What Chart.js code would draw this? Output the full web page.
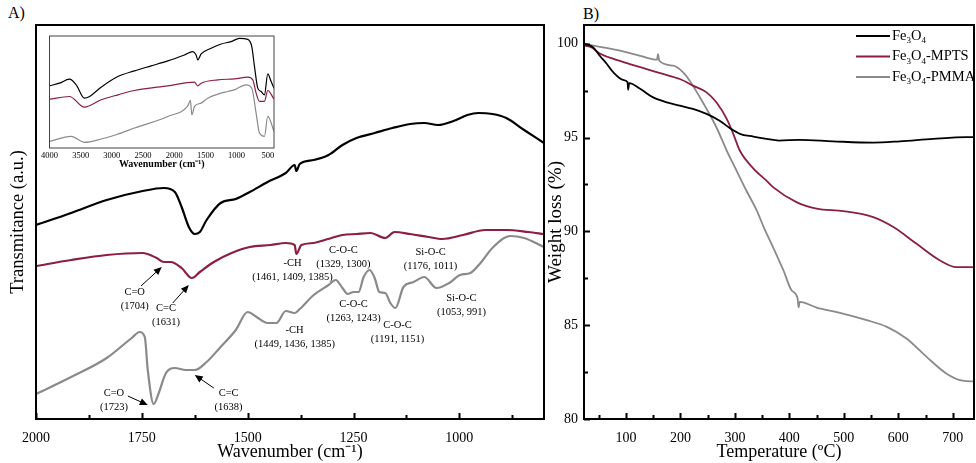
<!DOCTYPE html>
<html>
<head>
<meta charset="utf-8">
<script src="https://cdn.jsdelivr.net/npm/chart.js@4.4.0/dist/chart.umd.min.js"></script>
<style>
body { margin: 0; background: #fff; width: 976px; height: 463px; position: relative; overflow: hidden; font-family: 'Liberation Serif', serif; }
canvas { position: absolute; }
#ftir { left: 0; top: 0; }
#inset { left: 38px; top: 30px; }
#tga { left: 540px; top: 0; }
.panel { position: absolute; font-size: 16px; line-height: 18px; }
</style>
</head>
<body>
<div class="panel" style="left:8px;top:4px">A)</div>
<div class="panel" style="left:583px;top:5px">B)</div>
<canvas id="ftir" width="560" height="463"></canvas>
<canvas id="inset" width="246" height="142"></canvas>
<canvas id="tga" width="436" height="463"></canvas>
<script>
// FTIR, zoomed region (wavenumber cm-1 / transmittance a.u.)
const ftirWnFe = [2000,1917,1833,1748,1698,1672,1656,1639,1625,1613,1597,1564,1528,1495,1453,1410,1389,1385,1377,1344,1309,1276,1243,1200,1158,1116,1083,1050,1014,981,955,922,889,847,800];
const ftirFe = [194,206,219,228,231,227,212,192,185,187,199,216,220,227,237,246,254,248,255,259,264,274,281,286,291,295,296,294,298,304,306,305,301,289,276];
const ftirWnMp = [2000,1917,1833,1748,1715,1698,1682,1656,1632,1613,1580,1538,1495,1446,1410,1389,1385,1373,1344,1318,1302,1276,1243,1210,1175,1153,1116,1073,1040,991,939,889,837,800];
const ftirMp = [153,159,164,166,161,157,157,151,141,147,157,166,172,174,176,174,165,174,176,179,181,184,185,186,181,187,185,182,180,184,189,189,187,185];
const ftirWnPm = [2000,1917,1833,1774,1755,1743,1736,1722,1710,1693,1672,1646,1625,1597,1564,1528,1500,1479,1453,1432,1410,1389,1377,1344,1309,1292,1276,1264,1250,1238,1226,1212,1200,1189,1175,1163,1151,1132,1108,1083,1054,1024,998,974,948,922,880,847,800];
const ftirPm = [25,42,61,81,87,82,49,15,26,46,51,49,49,57,72,89,107,102,96,96,108,106,110,124,134,139,131,125,127,127,142,149,141,127,126,116,111,132,137,142,131,136,144,146,157,171,183,181,172];
const ftirTicks = [2000,1875,1750,1625,1500,1375,1250,1125,1000,875];

// FTIR inset, full range
const insetWnFe = [4000,3840,3680,3572,3439,3359,3172,2904,2637,2370,2103,1836,1702,1649,1622,1568,1408,1248,1088,954,820,756,713,660,607,553,500,446,400];
const insetFe = [187,195,207,190,150,155,183,215,232,247,262,280,290,280,265,283,300,313,320,330,327,305,245,180,170,160,223,200,180];
const insetWnMp = [4000,3680,3439,3172,2904,2637,2103,1675,1622,1568,1301,1034,820,740,687,633,553,500,400];
const insetMp = [147,155,123,145,160,173,187,198,187,195,205,208,213,205,165,140,140,173,147];
const insetWnPm = [4000,3653,3439,3172,2931,2637,2103,1782,1740,1718,1675,1568,1462,1301,1141,1034,847,756,687,633,553,500,400];
const insetPm = [20,35,17,27,40,60,95,127,143,100,125,135,150,162,170,175,190,180,105,45,35,95,50];
const insetTicks = [4000,3500,3000,2500,2000,1500,1000,500];

// TGA (temperature C / weight %)
const tgaTempFe = [25,40,52,65,77,95,103,104,106,126,150,175,199,223,248,272,291,309,334,358,381,419,480,554,603,664,725,740];
const tgaFe = [100,99.8,99.36,98.92,98.47,98.07,97.95,97.55,97.9,97.6,97.14,96.88,96.7,96.53,96.26,95.9,95.5,95.2,95.05,94.93,94.84,94.88,94.8,94.73,94.8,94.93,95.02,95.02];
const tgaTempMp = [25,37,52,77,107,138,168,199,223,248,266,285,297,309,334,358,370,413,450,499,554,591,633,676,707,740];
const tgaMp = [99.9,99.8,99.48,99.19,98.92,98.65,98.39,98.12,97.77,97.41,96.88,96.0,95.2,94.31,93.35,92.7,92.36,91.56,91.21,91.08,90.76,90.23,89.35,88.46,88.1,88.1];
const tgaTempPm = [25,52,89,126,157,159,161,187,205,217,236,248,266,285,303,321,340,355,370,389,404,415,417,419,450,493,542,579,615,652,688,718,740];
const tgaPm = [100,99.84,99.63,99.36,99.15,99.45,99.1,98.83,98.47,98.03,97.14,96.53,95.55,94.31,93.24,92.18,91.12,90.09,89.16,87.93,86.86,86.45,85.95,86.24,85.94,85.66,85.27,84.91,84.29,83.31,82.43,82.04,82.0];
const tgaXTicks = [50,100,150,200,250,300,350,400,450,500,550,600,650,700];
const tgaYTicks = [80,82.5,85,87.5,90,92.5,95,97.5,100];

const seriesLabels = ['Fe₃O₄', 'Fe₃O₄-MPTS', 'Fe₃O₄-PMMA'];
const colors = ['#000000', '#8c1f3f', '#8a8a8a'];

// band labels on panel A: [wavenumber, a.u., lines]
const ftirNotes = [
  [1767, 127, ['C=O', '(1704)']],
  [1693, 111, ['C=C', '(1631)']],
  [1394, 156, ['-CH', '(1461, 1409, 1385)']],
  [1274, 169, ['C-O-C', '(1329, 1300)']],
  [1068, 167, ['Si-O-C', '(1176, 1011)']],
  [1250, 115, ['C-O-C', '(1263, 1243)']],
  [1146, 94, ['C-O-C', '(1191, 1151)']],
  [995, 121, ['Si-O-C', '(1053, 991)']],
  [1389, 89, ['-CH', '(1449, 1436, 1385)']],
  [1816, 26, ['C=O', '(1723)']],
  [1545, 26, ['C=C', '(1638)']]
];
const ftirArrows = [
  [1752, 133, 1703, 152],
  [1677, 116, 1639, 134],
  [1783, 23, 1736, 14],
  [1580, 31, 1625, 44]
];

Chart.defaults.font.family = "'Liberation Serif', 'Times New Roman', serif";
Chart.defaults.color = '#000';

const pts = (xs, ys) => xs.map((x, i) => ({ x: x, y: ys[i] }));

const framePlugin = {
  id: 'frame',
  afterDatasetsDraw(chart, args, o) {
    const { ctx, chartArea: a } = chart;
    ctx.save();
    ctx.strokeStyle = o.color;
    ctx.lineWidth = o.lineWidth;
    ctx.strokeRect(a.left, a.top, a.right - a.left, a.bottom - a.top);
    ctx.lineWidth = o.tickWidth;
    ctx.beginPath();
    if (o.xMajor) {
      chart.scales.x.ticks.forEach(t => {
        const p = Math.round(chart.scales.x.getPixelForValue(t.value)) + 0.5;
        const len = t.value % o.xMajor === 0 ? o.major : o.minor;
        ctx.moveTo(p, a.bottom);
        ctx.lineTo(p, a.bottom - len);
      });
    }
    if (o.yMajor) {
      chart.scales.y.ticks.forEach(t => {
        const p = Math.round(chart.scales.y.getPixelForValue(t.value)) + 0.5;
        const len = t.value % o.yMajor === 0 ? o.major : o.minor;
        ctx.moveTo(a.left, p);
        ctx.lineTo(a.left + len, p);
      });
    }
    ctx.stroke();
    ctx.restore();
  }
};

const notesPlugin = {
  id: 'notes',
  afterDatasetsDraw(chart) {
    const { ctx } = chart;
    const x = chart.scales.x, y = chart.scales.y;
    ctx.save();
    ctx.fillStyle = '#000';
    ctx.strokeStyle = '#000';
    ctx.font = "10.5px 'Liberation Serif'";
    ctx.textAlign = 'center';
    ctx.textBaseline = 'middle';
    ftirNotes.forEach(([wn, v, lines]) => {
      const px = x.getPixelForValue(wn), py = y.getPixelForValue(v);
      lines.forEach((t, i) => ctx.fillText(t, px, py + i * 14));
    });
    ctx.lineWidth = 1;
    ftirArrows.forEach(([w0, v0, w1, v1]) => {
      const x0 = x.getPixelForValue(w0), y0 = y.getPixelForValue(v0);
      const x1 = x.getPixelForValue(w1), y1 = y.getPixelForValue(v1);
      const ang = Math.atan2(y1 - y0, x1 - x0);
      ctx.beginPath();
      ctx.moveTo(x0, y0);
      ctx.lineTo(x1 - 6 * Math.cos(ang), y1 - 6 * Math.sin(ang));
      ctx.stroke();
      ctx.beginPath();
      ctx.moveTo(x1, y1);
      ctx.lineTo(x1 - 8 * Math.cos(ang) + 3.5 * Math.sin(ang), y1 - 8 * Math.sin(ang) - 3.5 * Math.cos(ang));
      ctx.lineTo(x1 - 8 * Math.cos(ang) - 3.5 * Math.sin(ang), y1 - 8 * Math.sin(ang) + 3.5 * Math.cos(ang));
      ctx.closePath();
      ctx.fill();
    });
    ctx.restore();
  }
};

// legend with lowered subscript digits
const legendPlugin = {
  id: 'subLegend',
  afterDatasetsDraw(chart) {
    const { ctx, chartArea: a } = chart;
    const subs = '₀₁₂₃₄₅₆₇₈₉';
    ctx.save();
    ctx.textBaseline = 'middle';
    ctx.textAlign = 'left';
    chart.data.datasets.forEach((ds, i) => {
      const yy = a.top + 11 + i * 20.5;
      const x0 = a.right - 118;
      ctx.strokeStyle = ds.borderColor;
      ctx.lineWidth = 2;
      ctx.beginPath();
      ctx.moveTo(x0, yy);
      ctx.lineTo(x0 + 34, yy);
      ctx.stroke();
      let tx = x0 + 36;
      ctx.fillStyle = '#000';
      for (const ch of ds.label) {
        const k = subs.indexOf(ch);
        if (k >= 0) {
          ctx.font = "9px 'Liberation Serif'";
          ctx.fillText(String(k), tx, yy + 5);
          tx += ctx.measureText(String(k)).width;
        } else {
          ctx.font = "14.5px 'Liberation Serif'";
          ctx.fillText(ch, tx, yy);
          tx += ctx.measureText(ch).width;
        }
      }
    });
    ctx.restore();
  }
};

const lineDs = (label, data, color, width) => ({
  label: label, data: data, borderColor: color, borderWidth: width,
  pointRadius: 0, fill: false, cubicInterpolationMode: 'monotone'
});

// panel A
new Chart(document.getElementById('ftir'), {
  type: 'line',
  data: {
    datasets: [
      lineDs(seriesLabels[0], pts(ftirWnFe, ftirFe), colors[0], 2.2),
      lineDs(seriesLabels[1], pts(ftirWnMp, ftirMp), colors[1], 2.2),
      lineDs(seriesLabels[2], pts(ftirWnPm, ftirPm), colors[2], 2.2)
    ]
  },
  options: {
    responsive: false,
    animation: false,
    layout: { padding: { top: 25, right: 16, left: 0, bottom: 0 } },
    plugins: {
      legend: { display: false },
      tooltip: { enabled: false },
      frame: { color: '#000', lineWidth: 2, tickWidth: 2, xMajor: 250, major: 6, minor: 4 }
    },
    scales: {
      x: {
        type: 'linear', min: 800, max: 2000, reverse: true,
        grid: { display: false, drawTicks: false }, border: { display: false },
        afterBuildTicks: s => { s.ticks = ftirTicks.map(v => ({ value: v })); },
        afterFit: s => { s.height = 44; },
        ticks: { autoSkip: false, maxRotation: 0, padding: 11, font: { size: 14 },
          callback: v => (v % 250 === 0 ? String(v) : '') },
        title: { display: true, text: 'Wavenumber (cm⁻¹)', font: { size: 18 }, padding: { top: 0, bottom: 0 } }
      },
      y: {
        type: 'linear', min: 0, max: 394,
        grid: { display: false, drawTicks: false }, border: { display: false },
        ticks: { display: false },
        afterFit: s => { s.width = 36; },
        title: { display: true, text: 'Transmitance (a.u.)', font: { size: 18.5 }, padding: { top: 7, bottom: 0 } }
      }
    }
  },
  plugins: [framePlugin, notesPlugin]
});

// inset
new Chart(document.getElementById('inset'), {
  type: 'line',
  data: {
    datasets: [
      lineDs(seriesLabels[0], pts(insetWnFe, insetFe), colors[0], 1.2),
      lineDs(seriesLabels[1], pts(insetWnMp, insetMp), colors[1], 1.2),
      lineDs(seriesLabels[2], pts(insetWnPm, insetPm), colors[2], 1.2)
    ]
  },
  options: {
    responsive: false,
    animation: false,
    layout: { padding: { top: 6, right: 10, left: 0, bottom: 0 } },
    plugins: {
      legend: { display: false },
      tooltip: { enabled: false },
      frame: { color: '#444', lineWidth: 1, tickWidth: 1 }
    },
    scales: {
      x: {
        type: 'linear', min: 400, max: 4000, reverse: true,
        grid: { display: false, drawTicks: false }, border: { display: false },
        afterBuildTicks: s => { s.ticks = insetTicks.map(v => ({ value: v })); },
        afterFit: s => { s.height = 24; },
        ticks: { autoSkip: false, maxRotation: 0, padding: 3, font: { size: 8.5 }, callback: v => String(v) },
        title: { display: true, text: 'Wavenumber (cm⁻¹)', font: { size: 10, weight: 'bold' }, padding: { top: 0, bottom: 2 } }
      },
      y: {
        type: 'linear', min: 0, max: 337,
        grid: { display: false, drawTicks: false }, border: { display: false },
        ticks: { display: false },
        afterFit: s => { s.width = 10; }
      }
    }
  },
  plugins: [framePlugin]
});

// panel B
new Chart(document.getElementById('tga'), {
  type: 'line',
  data: {
    datasets: [
      lineDs(seriesLabels[0], pts(tgaTempFe, tgaFe), colors[0], 1.8),
      lineDs(seriesLabels[1], pts(tgaTempMp, tgaMp), colors[1], 1.8),
      lineDs(seriesLabels[2], pts(tgaTempPm, tgaPm), colors[2], 1.8)
    ]
  },
  options: {
    responsive: false,
    animation: false,
    layout: { padding: { top: 25, right: 2, left: 0, bottom: 0 } },
    plugins: {
      legend: { display: false },
      tooltip: { enabled: false },
      frame: { color: '#000', lineWidth: 2, tickWidth: 2, xMajor: 100, yMajor: 5, major: 6, minor: 4 }
    },
    scales: {
      x: {
        type: 'linear', min: 23, max: 739,
        grid: { display: false, drawTicks: false }, border: { display: false },
        afterBuildTicks: s => { s.ticks = tgaXTicks.map(v => ({ value: v })); },
        afterFit: s => { s.height = 44; },
        ticks: { autoSkip: false, maxRotation: 0, padding: 11, font: { size: 14 },
          callback: v => (v % 100 === 0 ? String(v) : '') },
        title: { display: true, text: 'Temperature (ºC)', font: { size: 18 }, padding: { top: 0, bottom: 0 } }
      },
      y: {
        type: 'linear', min: 80, max: 101,
        grid: { display: false, drawTicks: false }, border: { display: false },
        afterBuildTicks: s => { s.ticks = tgaYTicks.map(v => ({ value: v })); },
        afterFit: s => { s.width = 44; },
        ticks: { autoSkip: false, padding: 6, font: { size: 14 },
          callback: v => (v % 5 === 0 ? String(v) : '') },
        title: { display: true, text: 'Weight loss (%)', font: { size: 19 }, padding: { top: 5, bottom: 0 } }
      }
    }
  },
  plugins: [framePlugin, legendPlugin]
});
</script>
</body>
</html>
